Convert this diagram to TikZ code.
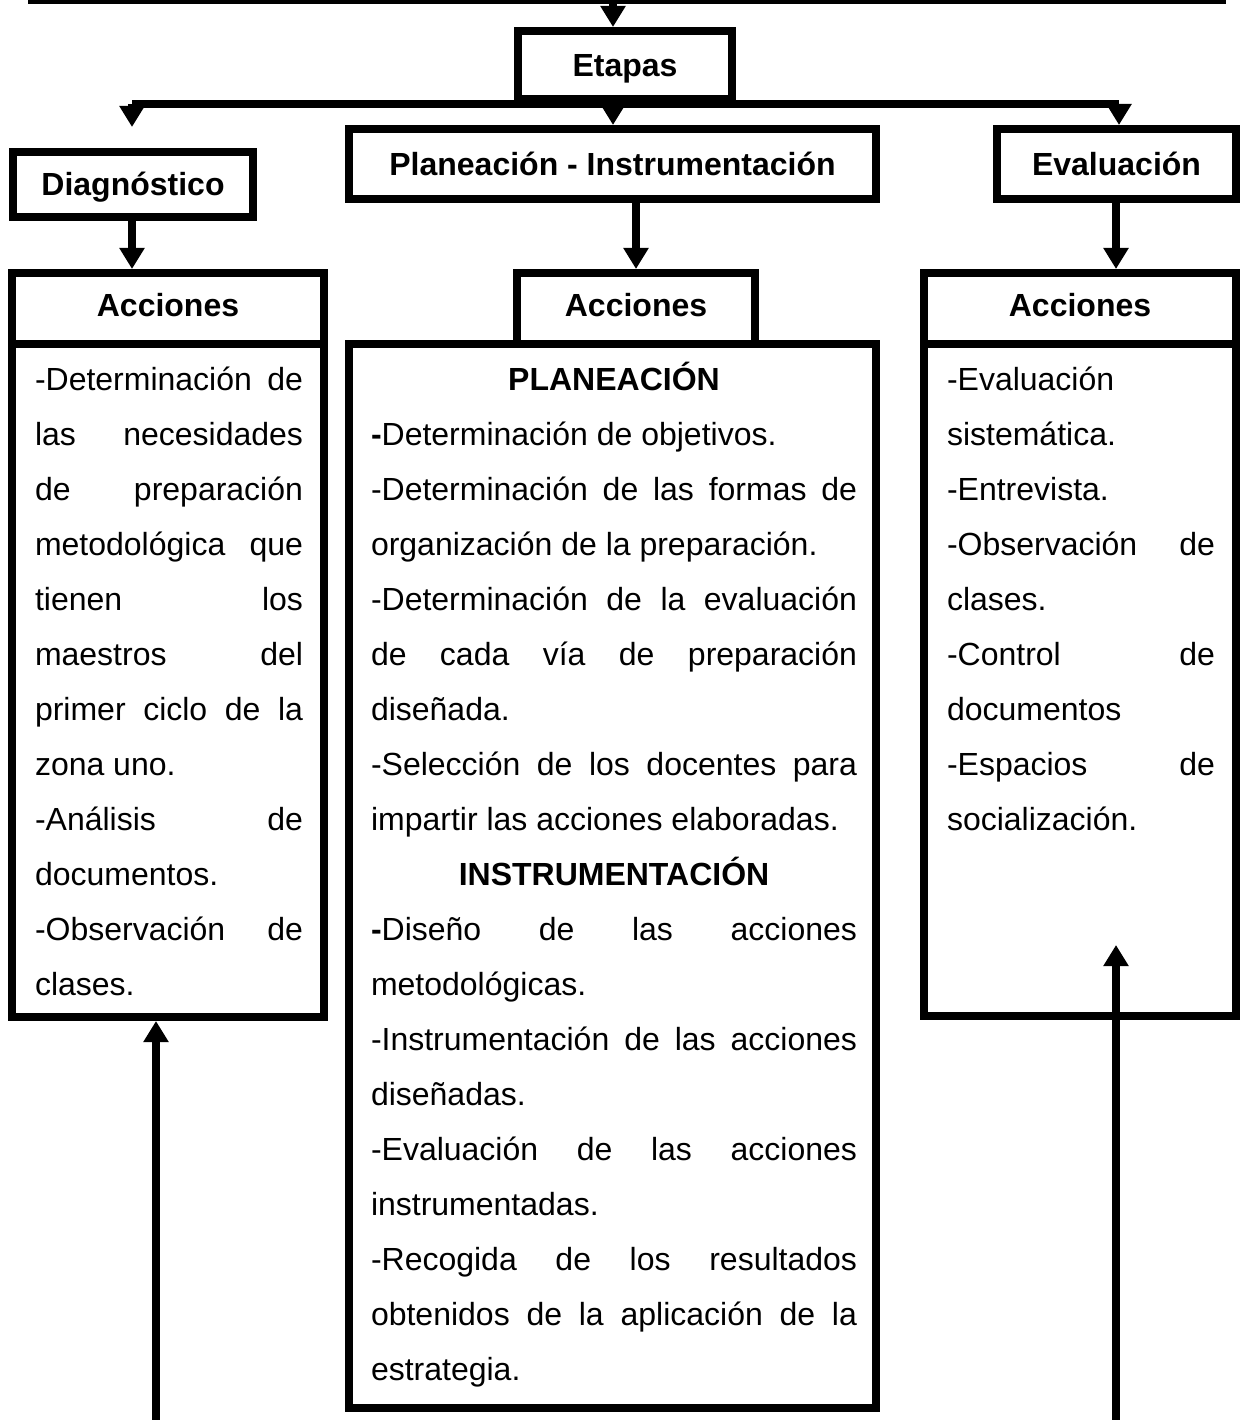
\documentclass[tikz,border=0pt]{standalone}
\usepackage{fontspec}
\setmainfont{Liberation Sans}
\usetikzlibrary{arrows.meta}
\newlength\Lw \setlength\Lw{268pt}
\newlength\Cw \setlength\Cw{486pt}
\newlength\Rw \setlength\Rw{268pt}
\newcommand\jl[2]{\makebox[#1][s]{#2}}
\newcommand\normsp{\spaceskip=0pt\xspaceskip=0pt\relax}
\begin{document}
\begin{tikzpicture}[x=1pt,y=-1pt,
  box/.style={draw, line width=8pt, inner sep=0pt, text height=23pt, text depth=0pt,
    font=\fontsize{32}{38}\selectfont\bfseries},
  body/.style={inner sep=0pt, outer sep=0pt, align=left, anchor=base west,
    font=\fontsize{32}{55}\selectfont},
  arr/.style={line width=8pt, -{Triangle[length=21pt,width=24pt]}},
  arrs/.style={line width=7.5pt, -{Triangle[length=21pt,width=24pt]}},
]
\useasboundingbox (0,0) rectangle (1242,1420);
\fill[white] (0,0) rectangle (1242,1420);

% boxes
\node[box, minimum width=214pt, minimum height=68pt] (etapas) at (625,65) {Etapas};
\node[box, minimum width=240pt, minimum height=65pt] (diag) at (133,184.5) {Diagnóstico};
\node[box, minimum width=527pt, minimum height=70pt] (plan) at (612.5,164) {Planeación - Instrumentación};
\node[box, minimum width=239pt, minimum height=70pt] (eval) at (1116.5,164) {Evaluación};

\node[box, minimum width=312pt, minimum height=673pt] (bodyL) at (168,680.5) {};
\node[box, minimum width=527pt, minimum height=1064pt] (bodyC) at (612.5,876) {};
\node[box, minimum width=312pt, minimum height=672pt] (bodyR) at (1080,680) {};

\node[box, minimum width=312pt, minimum height=71pt] (accL) at (168,308.5) {\raisebox{4pt}{Acciones}};
\node[box, minimum width=238pt, minimum height=71pt] (accC) at (636,308.5) {\raisebox{4pt}{Acciones}};
\node[box, minimum width=312pt, minimum height=71pt] (accR) at (1080,308.5) {\raisebox{4pt}{Acciones}};

% connectors
\coordinate (topL) at (28,2);
\coordinate (topR) at (1226,2);
\coordinate (t0) at (613,2);
\draw[line width=4pt] (topL) -- (topR);
\draw[arr] (t0) -- (t0 |- etapas.north);

\coordinate (b1) at (132,104.5);
\coordinate (b1tip) at (132,127);
\coordinate (b2) at (613,104.5);
\coordinate (b3) at (1119,104.5);
\draw[line width=8pt] (b1) -- (b3);
\draw[arr] (b1) -- (b1tip);
\draw[arr] (b2) -- (b2 |- plan.north);
\draw[arr] (b3) -- (b3 |- eval.north);

\coordinate (dA) at (132,0);
\coordinate (dB) at (636,0);
\coordinate (dC) at (1116,0);
\draw[arr] (dA |- diag.south) -- (dA |- accL.north);
\draw[arr] (dB |- plan.south) -- (dB |- accC.north);
\draw[arr] (dC |- eval.south) -- (dC |- accR.north);

\coordinate (bl) at (156,1420);
\coordinate (br) at (1116,1420);
\coordinate (brtip) at (1116,945);
\draw[arrs] (bl) -- (bl |- bodyL.south);
\draw[arrs] (br) -- (brtip);

% body texts
\node[body, text width=\Lw] (txL) at (35,390) {\normsp
\jl{\Lw}{-Determinación de}\\
\jl{\Lw}{las necesidades}\\
\jl{\Lw}{de preparación}\\
\jl{\Lw}{metodológica que}\\
\jl{\Lw}{tienen los}\\
\jl{\Lw}{maestros del}\\
\jl{\Lw}{primer ciclo de la}\\
zona uno.\\
\jl{\Lw}{-Análisis de}\\
documentos.\\
\jl{\Lw}{-Observación de}\\
clases.};

\node[body, text width=\Cw] (txC) at (371,390) {\normsp
\makebox[\Cw]{\bfseries PLANEACIÓN}\\
\textbf{-}Determinación de objetivos.\\
\jl{\Cw}{-Determinación de las formas de}\\
organización de la preparación.\\
\jl{\Cw}{-Determinación de la evaluación}\\
\jl{\Cw}{de cada vía de preparación}\\
diseñada.\\
\jl{\Cw}{-Selección de los docentes para}\\
impartir las acciones elaboradas.\\
\makebox[\Cw]{\bfseries INSTRUMENTACIÓN}\\
\jl{\Cw}{\textbf{-}Diseño de las acciones}\\
metodológicas.\\
\jl{\Cw}{-Instrumentación de las acciones}\\
diseñadas.\\
\jl{\Cw}{-Evaluación de las acciones}\\
instrumentadas.\\
\jl{\Cw}{-Recogida de los resultados}\\
\jl{\Cw}{obtenidos de la aplicación de la}\\
estrategia.};

\node[body, text width=\Rw] (txR) at (947,390) {\normsp
-Evaluación\\
sistemática.\\
-Entrevista.\\
\jl{\Rw}{-Observación de}\\
clases.\\
\jl{\Rw}{-Control de}\\
documentos\\
\jl{\Rw}{-Espacios de}\\
socialización.};
\end{tikzpicture}
\end{document}
